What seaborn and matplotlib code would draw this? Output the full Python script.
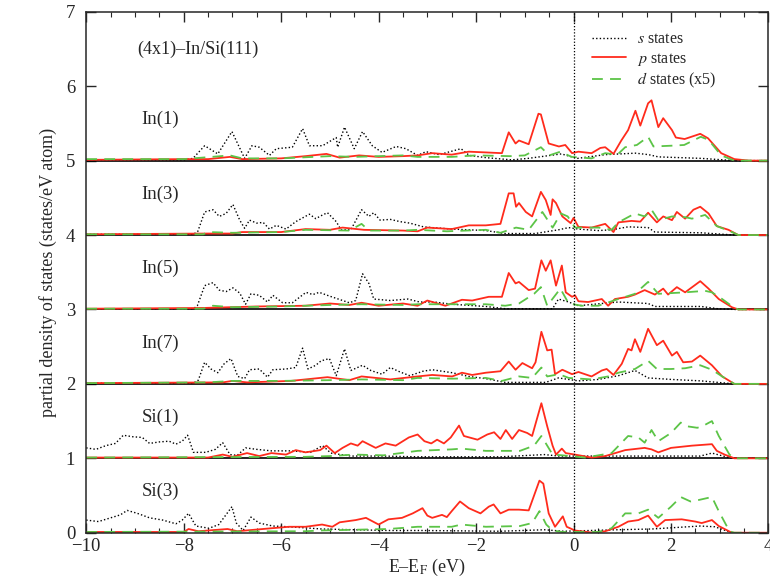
import pandas as pd
import seaborn as sns
import matplotlib.pyplot as plt
from matplotlib.ticker import MultipleLocator

# panel names, bottom to top offset = index
panels = ['Si(3)', 'Si(1)', 'In(7)', 'In(5)', 'In(3)', 'In(1)']

# (E, pDOS), offset not included
in1_s = [(-10, 0.01), (-8.0, 0.01), (-7.81, 0.03), (-7.57, 0.2), (-7.3, 0.09), (-7.01, 0.39), (-6.75, 0.03),
         (-6.6, 0.2), (-6.45, 0.18), (-6.24, 0.07), (-6.1, 0.16), (-5.77, 0.18), (-5.56, 0.43), (-5.42, 0.2),
         (-5.15, 0.2), (-4.87, 0.31), (-4.84, 0.18), (-4.7, 0.45), (-4.5, 0.16), (-4.33, 0.39), (-4.13, 0.2),
         (-3.93, 0.11), (-3.64, 0.19), (-3.44, 0.16), (-3.2, 0.07), (-3.03, 0.12), (-2.76, 0.08), (-2.31, 0.16),
         (-2.14, 0.07), (-1.8, 0.04), (-1.27, 0.01), (-0.93, 0.03), (-0.25, 0.09), (0.08, 0.03), (0.65, 0.08),
         (1.27, 0.1), (1.54, 0.08), (1.74, 0.05), (2.62, 0.03), (3.3, 0.0), (4, 0)]
in1_p = [(-10, 0.01), (-8, 0.02), (-7.5, 0.02), (-7.05, 0.05), (-6.8, 0.02), (-6, 0.03), (-5.5, 0.06), (-5.07, 0.09),
         (-4.8, 0.04), (-4.4, 0.07), (-4, 0.05), (-3.5, 0.06), (-3.2, 0.07), (-2.9, 0.1), (-2.5, 0.08), (-2.15, 0.12),
         (-1.8, 0.11), (-1.47, 0.1), (-1.33, 0.38), (-1.19, 0.23), (-1.12, 0.27), (-0.92, 0.22), (-0.72, 0.63),
         (-0.67, 0.62), (-0.51, 0.23), (-0.3, 0.19), (-0.17, 0.21), (-0.03, 0.1), (0.1, 0.12), (0.37, 0.1),
         (0.55, 0.17), (0.65, 0.18), (0.82, 0.09), (0.98, 0.27), (1.12, 0.41), (1.27, 0.67), (1.37, 0.47),
         (1.53, 0.77), (1.6, 0.81), (1.74, 0.45), (1.84, 0.57), (2.02, 0.41), (2.1, 0.31), (2.28, 0.29),
         (2.6, 0.36), (2.76, 0.3), (3.03, 0.1), (3.3, 0.02), (3.6, 0), (4, 0)]
in1_d = [(-10, 0.02), (-8, 0.02), (-7.05, 0.07), (-6.8, 0.03), (-6, 0.03), (-5, 0.06), (-4.5, 0.05), (-3.5, 0.07),
         (-3.2, 0.05), (-2.5, 0.05), (-2.0, 0.07), (-1.3, 0.06), (-1.0, 0.07), (-0.67, 0.18), (-0.5, 0.07),
         (-0.27, 0.12), (-0.04, 0.05), (0.37, 0.03), (0.65, 0.1), (0.9, 0.08), (1.06, 0.18), (1.3, 0.21),
         (1.53, 0.32), (1.64, 0.19), (2.0, 0.2), (2.27, 0.21), (2.61, 0.32), (2.77, 0.28), (3.03, 0.07),
         (3.3, 0), (4, 0)]

in3_s = [(-10, 0.01), (-7.8, 0.01), (-7.71, 0.05), (-7.57, 0.31), (-7.4, 0.34), (-7.27, 0.25), (-7.13, 0.29),
         (-6.99, 0.41), (-6.85, 0.2), (-6.75, 0.09), (-6.65, 0.2), (-6.5, 0.16), (-6.37, 0.17), (-6.24, 0.08),
         (-6.1, 0.13), (-5.9, 0.08), (-5.7, 0.18), (-5.42, 0.28), (-5.29, 0.22), (-5.15, 0.27), (-5.05, 0.3),
         (-4.87, 0.18), (-4.77, 0.07), (-4.57, 0.07), (-4.35, 0.34), (-4.2, 0.25), (-4.1, 0.3), (-3.97, 0.2),
         (-3.76, 0.21), (-3.56, 0.18), (-3.36, 0.16), (-3.08, 0.11), (-2.9, 0.1), (-2.49, 0.08), (-1.8, 0.06),
         (-1.4, 0.02), (-0.79, 0.02), (-0.31, 0.07), (-0.1, 0.1), (0.1, 0.08), (0.51, 0.06), (0.78, 0.07),
         (1.12, 0.11), (1.53, 0.1), (1.67, 0.04), (2.62, 0.03), (3.3, 0), (4, 0)]
in3_p = [(-10, 0.01), (-7.5, 0.02), (-7.0, 0.02), (-6.8, 0.04), (-6.0, 0.04), (-5.5, 0.08), (-5.0, 0.07),
         (-4.74, 0.1), (-4.3, 0.07), (-3.5, 0.06), (-3.2, 0.05), (-3.0, 0.1), (-2.5, 0.08), (-2.15, 0.13),
         (-1.8, 0.13), (-1.5, 0.15), (-1.33, 0.56), (-1.23, 0.56), (-1.18, 0.38), (-1.12, 0.43), (-0.98, 0.31),
         (-0.85, 0.25), (-0.67, 0.58), (-0.57, 0.47), (-0.47, 0.27), (-0.43, 0.48), (-0.36, 0.43), (-0.23, 0.25),
         (-0.06, 0.16), (0.0, 0.23), (0.1, 0.11), (0.37, 0.1), (0.65, 0.15), (0.82, 0.04), (0.92, 0.17),
         (1.19, 0.19), (1.37, 0.18), (1.53, 0.3), (1.71, 0.17), (1.84, 0.25), (2.02, 0.2), (2.12, 0.31),
         (2.29, 0.22), (2.46, 0.34), (2.6, 0.38), (2.77, 0.29), (2.94, 0.12), (3.18, 0.07), (3.38, 0), (4, 0)]
in3_d = [(-10, 0.01), (-7.6, 0.01), (-7.5, 0.04), (-7, 0.03), (-6, 0.04), (-5.5, 0.07), (-4.6, 0.06), (-4.35, 0.15),
         (-4.2, 0.06), (-3.5, 0.06), (-3.2, 0.07), (-2.6, 0.05), (-1.8, 0.07), (-1.5, 0.03), (-1.18, 0.1),
         (-0.92, 0.07), (-0.64, 0.31), (-0.43, 0.1), (-0.26, 0.29), (-0.12, 0.25), (0.03, 0.1), (0.51, 0.1),
         (0.78, 0.07), (0.92, 0.17), (1.26, 0.29), (1.46, 0.25), (1.6, 0.34), (1.74, 0.2), (2.02, 0.25),
         (2.29, 0.24), (2.43, 0.22), (2.7, 0.27), (2.94, 0.12), (3.25, 0.04), (3.38, 0), (4, 0)]

in5_s = [(-10, 0.01), (-7.8, 0.01), (-7.72, 0.05), (-7.57, 0.32), (-7.4, 0.36), (-7.27, 0.26), (-7.13, 0.24),
         (-6.99, 0.29), (-6.85, 0.22), (-6.73, 0.07), (-6.62, 0.21), (-6.45, 0.19), (-6.28, 0.1), (-6.17, 0.19),
         (-5.97, 0.09), (-5.77, 0.09), (-5.49, 0.23), (-5.35, 0.2), (-5.22, 0.23), (-5.01, 0.18), (-4.6, 0.09),
         (-4.47, 0.12), (-4.33, 0.48), (-4.2, 0.35), (-4.1, 0.14), (-3.76, 0.12), (-3.4, 0.14), (-3.16, 0.1),
         (-2.86, 0.1), (-2.49, 0.07), (-1.8, 0.04), (-1.4, 0.01), (-0.43, 0.01), (-0.31, 0.14), (-0.1, 0.1),
         (0.1, 0.05), (0.58, 0.08), (0.92, 0.1), (1.53, 0.08), (1.67, 0.04), (2.62, 0.04), (2.96, 0.01),
         (3.3, 0), (4, 0)]
in5_p = [(-10, 0.01), (-7.6, 0.02), (-6.5, 0.04), (-5.5, 0.05), (-5.0, 0.08), (-4.6, 0.06), (-4.35, 0.09),
         (-4.0, 0.05), (-3.5, 0.08), (-3.2, 0.05), (-3.0, 0.12), (-2.63, 0.05), (-2.29, 0.13), (-2.08, 0.12),
         (-1.74, 0.17), (-1.47, 0.17), (-1.33, 0.49), (-1.19, 0.35), (-1.12, 0.37), (-0.92, 0.26), (-0.79, 0.28),
         (-0.66, 0.66), (-0.57, 0.52), (-0.47, 0.66), (-0.36, 0.32), (-0.24, 0.59), (-0.16, 0.23), (-0.03, 0.17),
         (0.03, 0.19), (0.1, 0.11), (0.3, 0.1), (0.58, 0.14), (0.71, 0.05), (0.85, 0.14), (1.12, 0.17),
         (1.26, 0.2), (1.46, 0.26), (1.67, 0.2), (1.84, 0.28), (1.94, 0.2), (2.12, 0.3), (2.29, 0.23),
         (2.6, 0.38), (2.77, 0.28), (2.98, 0.14), (3.25, 0.03), (3.38, 0), (4, 0)]
in5_d = [(-10, 0.01), (-7.6, 0.01), (-7.4, 0.05), (-7, 0.03), (-6, 0.04), (-5, 0.06), (-4.35, 0.07), (-3.5, 0.06),
         (-3.2, 0.07), (-2.49, 0.07), (-1.8, 0.07), (-1.4, 0.05), (-1.12, 0.08), (-0.81, 0.21), (-0.67, 0.3),
         (-0.54, 0.05), (-0.27, 0.28), (-0.1, 0.08), (0.17, 0.05), (0.51, 0.05), (0.92, 0.14), (1.26, 0.21),
         (1.53, 0.37), (1.74, 0.21), (2.29, 0.23), (2.7, 0.25), (2.84, 0.23), (3.05, 0.14), (3.28, 0.03),
         (3.38, 0), (4, 0)]

in7_s = [(-10, 0.01), (-7.8, 0.01), (-7.7, 0.05), (-7.57, 0.29), (-7.44, 0.2), (-7.3, 0.15), (-7.17, 0.27),
         (-7.03, 0.34), (-6.89, 0.1), (-6.75, 0.07), (-6.65, 0.19), (-6.45, 0.2), (-6.28, 0.09), (-6.17, 0.19),
         (-5.9, 0.2), (-5.7, 0.22), (-5.56, 0.48), (-5.45, 0.2), (-5.29, 0.25), (-5.18, 0.31), (-5.01, 0.34),
         (-4.87, 0.11), (-4.7, 0.47), (-4.57, 0.18), (-4.33, 0.25), (-4.16, 0.18), (-3.93, 0.13), (-3.76, 0.22),
         (-3.56, 0.16), (-3.36, 0.11), (-3.09, 0.17), (-2.9, 0.19), (-2.49, 0.15), (-2.15, 0.1), (-1.8, 0.07),
         (-1.4, 0.02), (-0.57, 0.02), (-0.31, 0.08), (0.1, 0.04), (0.51, 0.06), (0.92, 0.11), (1.26, 0.18),
         (1.53, 0.08), (2.0, 0.06), (2.62, 0.04), (3.3, 0), (4, 0)]
in7_p = [(-10, 0.01), (-7.2, 0.02), (-7.0, 0.04), (-6.7, 0.02), (-5.8, 0.04), (-5.05, 0.09), (-4.6, 0.05),
         (-4.35, 0.1), (-3.76, 0.06), (-3.2, 0.1), (-2.9, 0.12), (-2.49, 0.1), (-2.29, 0.15), (-2.08, 0.12),
         (-1.8, 0.15), (-1.5, 0.17), (-1.33, 0.3), (-1.19, 0.19), (-1.05, 0.28), (-0.85, 0.21), (-0.78, 0.29),
         (-0.66, 0.7), (-0.54, 0.45), (-0.45, 0.46), (-0.38, 0.13), (-0.23, 0.19), (-0.03, 0.13), (0.1, 0.16),
         (0.37, 0.1), (0.58, 0.18), (0.68, 0.2), (0.82, 0.12), (0.99, 0.27), (1.12, 0.47), (1.19, 0.45),
         (1.26, 0.6), (1.37, 0.43), (1.53, 0.74), (1.71, 0.52), (1.84, 0.58), (2.02, 0.38), (2.12, 0.43),
         (2.25, 0.29), (2.43, 0.3), (2.6, 0.38), (2.84, 0.25), (3.05, 0.1), (3.3, 0), (4, 0)]
in7_d = [(-10, 0.01), (-7.5, 0.02), (-7, 0.04), (-6, 0.04), (-5, 0.05), (-4.35, 0.06), (-3.5, 0.05), (-3.2, 0.08),
         (-2.49, 0.07), (-1.8, 0.08), (-1.47, 0.04), (-1.12, 0.1), (-0.85, 0.08), (-0.66, 0.22), (-0.54, 0.1),
         (-0.3, 0.13), (-0.1, 0.08), (0.37, 0.06), (0.71, 0.1), (0.92, 0.15), (1.26, 0.2), (1.53, 0.31),
         (1.71, 0.2), (2.0, 0.2), (2.29, 0.21), (2.6, 0.25), (2.84, 0.19), (3.05, 0.1), (3.3, 0), (4, 0)]

si1_s = [(-10, 0.14), (-9.8, 0.12), (-9.6, 0.17), (-9.4, 0.2), (-9.24, 0.31), (-9.05, 0.29), (-8.85, 0.28),
         (-8.7, 0.2), (-8.5, 0.22), (-8.3, 0.23), (-8.16, 0.19), (-8.03, 0.23), (-7.92, 0.31), (-7.8, 0.08),
         (-7.55, 0.08), (-7.35, 0.12), (-7.2, 0.21), (-7.05, 0.05), (-6.9, 0.04), (-6.73, 0.14), (-6.5, 0.12),
         (-6.2, 0.1), (-5.8, 0.1), (-5.4, 0.08), (-5.15, 0.17), (-4.98, 0.07), (-4.57, 0.03), (-3.9, 0.03),
         (-3.2, 0.02), (-1.5, 0.02), (-0.6, 0.05), (-0.3, 0.03), (0.92, 0.03), (2.6, 0.03), (2.84, 0.07),
         (3.25, 0), (4, 0)]
si1_p = [(-10, 0.01), (-7.5, 0.01), (-7.2, 0.05), (-7.0, 0.02), (-6.7, 0.07), (-6.45, 0.03), (-6.2, 0.07),
         (-5.9, 0.05), (-5.7, 0.11), (-5.5, 0.08), (-5.2, 0.11), (-5.07, 0.17), (-4.9, 0.07), (-4.74, 0.14),
         (-4.57, 0.2), (-4.43, 0.17), (-4.33, 0.23), (-4.06, 0.14), (-3.86, 0.2), (-3.65, 0.17), (-3.38, 0.28),
         (-3.2, 0.32), (-3.06, 0.23), (-2.92, 0.2), (-2.8, 0.25), (-2.66, 0.2), (-2.52, 0.28), (-2.35, 0.44),
         (-2.25, 0.3), (-1.97, 0.25), (-1.77, 0.32), (-1.63, 0.35), (-1.5, 0.26), (-1.39, 0.38), (-1.26, 0.26),
         (-1.12, 0.38), (-0.95, 0.34), (-0.85, 0.3), (-0.66, 0.74), (-0.54, 0.43), (-0.43, 0.17), (-0.36, 0.05),
         (-0.24, 0.13), (-0.16, 0.07), (0.03, 0.05), (0.37, 0.01), (0.65, 0.03), (1.06, 0.11), (1.46, 0.14),
         (1.6, 0.12), (1.74, 0.08), (2.0, 0.14), (2.43, 0.17), (2.84, 0.19), (2.94, 0.1), (3.1, 0.05),
         (3.3, 0), (4, 0)]
si1_d = [(-10, 0.01), (-5.5, 0.02), (-5, 0.03), (-4.5, 0.05), (-3.9, 0.04), (-3.2, 0.1), (-2.5, 0.12), (-2.3, 0.13),
         (-1.8, 0.1), (-1.1, 0.1), (-0.81, 0.17), (-0.66, 0.3), (-0.54, 0.17), (-0.43, 0.05), (-0.23, 0.04),
         (0.24, 0.01), (0.78, 0.07), (1.12, 0.3), (1.33, 0.28), (1.46, 0.21), (1.6, 0.38), (1.74, 0.23),
         (2.0, 0.34), (2.2, 0.48), (2.33, 0.43), (2.54, 0.41), (2.67, 0.44), (2.84, 0.5), (2.98, 0.3),
         (3.2, 0.05), (3.3, 0), (4, 0)]

si3_s = [(-10, 0.17), (-9.75, 0.15), (-9.5, 0.2), (-9.3, 0.24), (-9.16, 0.3), (-8.95, 0.26), (-8.7, 0.2),
         (-8.43, 0.17), (-8.16, 0.12), (-8.03, 0.17), (-7.9, 0.26), (-7.75, 0.09), (-7.48, 0.06), (-7.28, 0.11),
         (-7.01, 0.35), (-6.92, 0.13), (-6.78, 0.03), (-6.62, 0.21), (-6.45, 0.13), (-6.17, 0.09), (-5.84, 0.08),
         (-5.16, 0.05), (-4.5, 0.04), (-3.8, 0.03), (-3.1, 0.03), (-1.5, 0.02), (-0.6, 0.04), (-0.2, 0.02),
         (0.9, 0.04), (1.6, 0.05), (2.6, 0.09), (2.9, 0.08), (3.25, 0), (4, 0)]
si3_p = [(-10, 0.01), (-8.0, 0.01), (-7.9, 0.05), (-7.7, 0.02), (-7.1, 0.05), (-6.9, 0.02), (-6.55, 0.04),
         (-6.2, 0.06), (-5.84, 0.08), (-5.5, 0.08), (-5.16, 0.11), (-4.95, 0.08), (-4.8, 0.14), (-4.47, 0.17),
         (-4.26, 0.2), (-4.0, 0.11), (-3.8, 0.18), (-3.52, 0.2), (-3.3, 0.26), (-3.1, 0.33), (-3.0, 0.23),
         (-2.9, 0.2), (-2.7, 0.24), (-2.6, 0.21), (-2.5, 0.29), (-2.33, 0.42), (-2.15, 0.33), (-1.91, 0.26),
         (-1.74, 0.35), (-1.64, 0.38), (-1.5, 0.26), (-1.33, 0.31), (-1.12, 0.31), (-0.92, 0.3), (-0.7, 0.7),
         (-0.62, 0.66), (-0.51, 0.26), (-0.38, 0.08), (-0.22, 0.22), (-0.14, 0.08), (0.03, 0.03), (0.4, 0),
         (0.65, 0.02), (0.92, 0.08), (1.12, 0.15), (1.33, 0.17), (1.53, 0.23), (1.71, 0.08), (1.88, 0.17),
         (2.22, 0.18), (2.5, 0.15), (2.63, 0.13), (2.84, 0.17), (2.98, 0.09), (3.25, 0), (4, 0)]
si3_d = [(-10, 0.01), (-5.5, 0.02), (-5.2, 0.03), (-4.5, 0.04), (-3.8, 0.05), (-3.2, 0.08), (-2.5, 0.08),
         (-2.3, 0.11), (-1.8, 0.08), (-1.1, 0.09), (-0.85, 0.13), (-0.7, 0.29), (-0.56, 0.11), (-0.43, 0.03),
         (-0.23, 0.01), (0.51, 0.01), (0.78, 0.06), (1.06, 0.26), (1.33, 0.26), (1.53, 0.31), (1.74, 0.2),
         (2.0, 0.35), (2.2, 0.48), (2.4, 0.42), (2.57, 0.44), (2.84, 0.48), (2.98, 0.29), (3.2, 0.02),
         (3.3, 0), (4, 0)]

curves = {
    'Si(3)': (si3_s, si3_p, si3_d),
    'Si(1)': (si1_s, si1_p, si1_d),
    'In(7)': (in7_s, in7_p, in7_d),
    'In(5)': (in5_s, in5_p, in5_d),
    'In(3)': (in3_s, in3_p, in3_d),
    'In(1)': (in1_s, in1_p, in1_d),
}

sns.set_style('ticks')
plt.rcParams['font.family'] = ['Liberation Serif', 'DejaVu Serif']
plt.rcParams['mathtext.fontset'] = 'stix'

styles = [
    dict(color='black', dashes=(1, 1.6), lw=1.0, label=r'$s$ states'),
    dict(color='#ff2b1c', dashes=None, lw=1.3, label=r'$p$ states'),
    dict(color='#5cc447', dashes=(6, 4), lw=1.3, label=r'$d$ states (x5)'),
]

fig = plt.figure(figsize=(7.7, 5.88), dpi=100)
ax = fig.add_axes([0.112, 0.094, 0.886, 0.886])

for off, name in enumerate(panels):
    for pts, st in zip(curves[name], styles):
        df = pd.DataFrame(pts, columns=['E', 'dos'])
        df['dos'] = df['dos'] + off
        sns.lineplot(data=df, x='E', y='dos', ax=ax, color=st['color'], lw=st['lw'],
                     estimator=None, sort=False,
                     label=st['label'] if name == 'In(1)' else None, legend=False)
        if st['dashes'] is not None:
            ax.lines[-1].set_dashes(st['dashes'])
    ax.text(-8.87, off + 0.55, name, fontsize=13.5, va='center', ha='left')
    if off > 0:
        ax.axhline(off, color='black', lw=1.2, zorder=1)

ax.axvline(0, color='black', lw=0.9, dashes=(1, 1.5))
ax.text(-8.96, 6.5, '(4x1)–In/Si(111)', fontsize=13, va='center', ha='left')

ax.set_xlim(-10, 4)
ax.set_ylim(0, 7)
ax.xaxis.set_major_locator(MultipleLocator(2))
ax.xaxis.set_minor_locator(MultipleLocator(0.5))
ax.yaxis.set_major_locator(MultipleLocator(1))
ax.tick_params(which='both', direction='in', top=True, right=True, labelsize=13.5)
ax.tick_params(which='major', length=7, width=1)
ax.tick_params(which='minor', length=3.5, width=0.8)
ax.tick_params(axis='y', pad=8)
for sp in ax.spines.values():
    sp.set_linewidth(1.1)

ax.set_xlabel(r'E–E$_\mathrm{F}$ (eV)', fontsize=13, labelpad=2)
ax.set_ylabel('partial density of states (states/eV atom)', fontsize=13, labelpad=6)

handles, labels = ax.get_legend_handles_labels()
leg = ax.legend(handles, labels, loc='upper right', bbox_to_anchor=(0.945, 0.99), frameon=False,
                fontsize=11.5, handlelength=2.1, labelspacing=0.2, handletextpad=0.7)
for h, st in zip(leg.get_lines(), styles):
    if st['dashes'] is not None:
        h.set_dashes(st['dashes'])

fig.savefig('out.png', dpi=100)
